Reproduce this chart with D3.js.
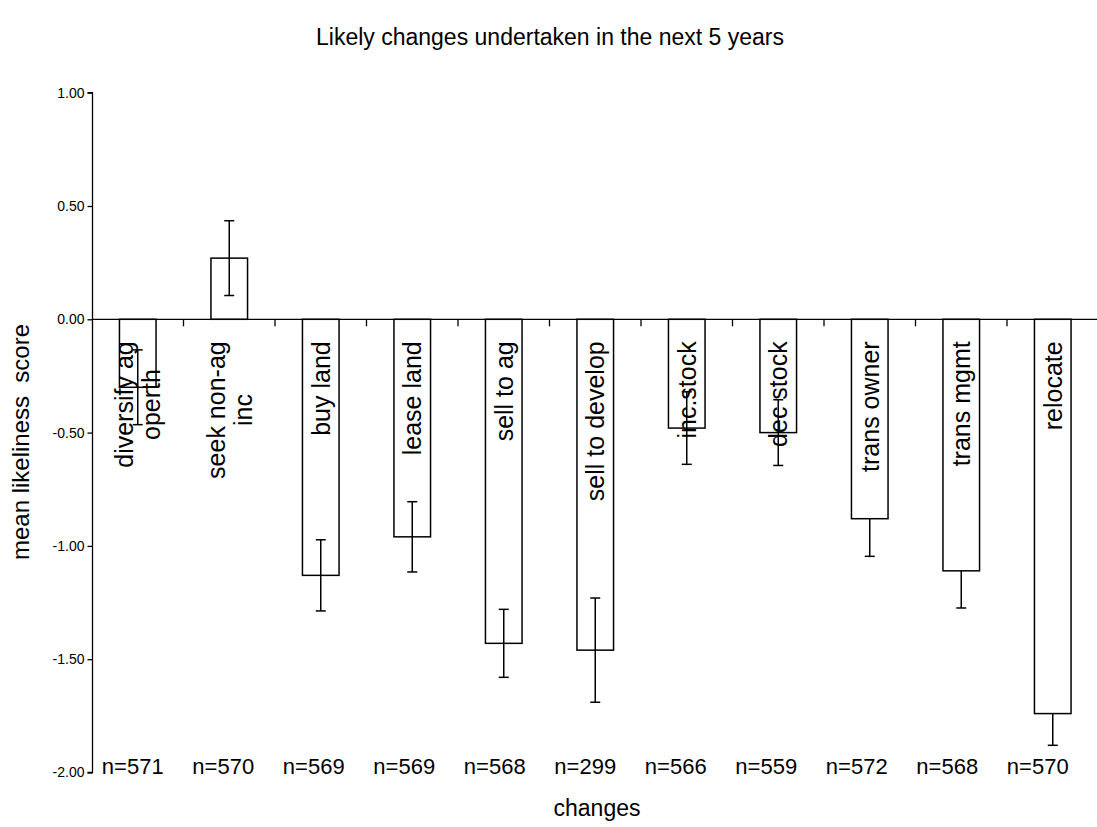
<!DOCTYPE html>
<html>
<head>
<meta charset="utf-8">
<script src="https://cdn.jsdelivr.net/npm/d3@7"></script>
<style>
  html, body { margin: 0; padding: 0; background: #fff; }
  svg { display: block; }
  text { font-family: "Liberation Sans", Arial, sans-serif; fill: #000; }
</style>
</head>
<body>
<svg id="chart" width="1097" height="827"></svg>
<script>
// ---- data ----
const categories = ["diversify ag operth", "seek non-ag inc", "buy land", "lease land", "sell to ag",
  "sell to develop", "inc.stock", "dec stock", "trans owner", "trans mgmt", "relocate"];
const labelLines = [["diversify ag", "operth"], ["seek non-ag", "inc"], ["buy land"], ["lease land"],
  ["sell to ag"], ["sell to develop"], ["inc.stock"], ["dec stock"], ["trans owner"], ["trans mgmt"], ["relocate"]];
const means = [-0.30, 0.27, -1.13, -0.96, -1.43, -1.46, -0.48, -0.50, -0.88, -1.11, -1.74];
const errors = [0.165, 0.165, 0.157, 0.155, 0.15, 0.23, 0.16, 0.145, 0.166, 0.164, 0.14];
const errorSides = ["both", "both", "both", "both", "both", "both", "both", "both", "minus", "minus", "minus"];
const nLabels = ["n=571", "n=570", "n=569", "n=569", "n=568", "n=299", "n=566", "n=559", "n=572", "n=568", "n=570"];
const yTicks = [1.0, 0.5, 0.0, -0.5, -1.0, -1.5, -2.0];
const titleText = "Likely changes undertaken in the next 5 years";
const yTitle = "mean likeliness  score";
const xTitle = "changes";

// ---- scales ----
const svg = d3.select("#chart");
const x = d3.scaleBand().domain(categories).range([92, 1098.5]).paddingInner(0.6).paddingOuter(0.3);
const y = d3.scaleLinear().domain([-2, 1]).range([772.5, 92.7]);
const cx = c => x(c) + x.bandwidth() / 2;

// title
svg.append("text").attr("x", 550).attr("y", 45).attr("text-anchor", "middle")
  .style("font-size", "23px").text(titleText);

// y axis
const yAxis = svg.append("g").attr("transform", "translate(92.5,0)")
  .call(d3.axisLeft(y).tickValues(yTicks).tickFormat(d => d.toFixed(2)).tickSize(5).tickPadding(3));
yAxis.select(".domain").attr("stroke", "#000").attr("stroke-width", 1.3).attr("d", `M-5,${y(1)}H0V${y(-2)}H-5`);
yAxis.selectAll(".tick line").attr("stroke", "#000").attr("stroke-width", 1.3);
yAxis.selectAll(".tick text").style("font-size", "14px").style("font-family", "'Liberation Sans', Arial, sans-serif");

// y title
svg.append("text").attr("transform", `translate(29,442) rotate(-90)`)
  .attr("text-anchor", "middle")
  .style("font-size", "24px").style("white-space", "pre").text(yTitle);

// bars
svg.append("g").selectAll("rect").data(categories).join("rect")
  .attr("x", c => x(c))
  .attr("y", (c, i) => y(Math.max(0, means[i])))
  .attr("width", x.bandwidth())
  .attr("height", (c, i) => Math.abs(y(means[i]) - y(0)))
  .attr("fill", "#fff").attr("stroke", "#000").attr("stroke-width", 1.5);

// x axis line and ticks (category boundaries)
svg.append("line").attr("x1", 92).attr("x2", 1097).attr("y1", y(0)).attr("y2", y(0))
  .attr("stroke", "#000").attr("stroke-width", 1.3);
const bounds = categories.slice(1).map(c => cx(c) - x.step() / 2);
svg.append("g").selectAll("line").data(bounds).join("line")
  .attr("x1", d => d).attr("x2", d => d).attr("y1", y(0)).attr("y2", y(0) + 7)
  .attr("stroke", "#000").attr("stroke-width", 1.3);

// category labels (rotated, inside plot)
const labelTop = y(0) + 22;
categories.forEach((c, i) => {
  const g = svg.append("g").attr("transform", `translate(${cx(c)},${labelTop}) rotate(-90)`);
  const lines = labelLines[i];
  const n = lines.length;
  const texts = lines.map((t, k) => g.append("text")
    .attr("y", (k - (n - 1) / 2) * 27)
    .attr("dominant-baseline", "central").attr("text-anchor", "middle")
    .style("font-size", "25px").text(t));
  const L = d3.max(texts, t => t.node().getComputedTextLength());
  texts.forEach(t => t.attr("x", -L / 2));
});

// error bars
const eg = svg.append("g").attr("stroke", "#000").attr("stroke-width", 1.5);
categories.forEach((c, i) => {
  const m = means[i], e = errors[i];
  const top = errorSides[i] === "both" ? m + e : m;
  const bot = m - e;
  eg.append("line").attr("x1", cx(c)).attr("x2", cx(c)).attr("y1", y(top)).attr("y2", y(bot));
  if (errorSides[i] === "both")
    eg.append("line").attr("x1", cx(c) - 5).attr("x2", cx(c) + 5).attr("y1", y(top)).attr("y2", y(top));
  eg.append("line").attr("x1", cx(c) - 5).attr("x2", cx(c) + 5).attr("y1", y(bot)).attr("y2", y(bot));
});

// n labels
svg.append("g").selectAll("text").data(categories).join("text")
  .attr("x", (c, i) => cx(c) - 5 - i).attr("y", 774).attr("text-anchor", "middle")
  .style("font-size", "22px").text((c, i) => nLabels[i]);

// x title
svg.append("text").attr("x", 597).attr("y", 816).attr("text-anchor", "middle")
  .style("font-size", "23px").text(xTitle);
</script>
</body>
</html>
